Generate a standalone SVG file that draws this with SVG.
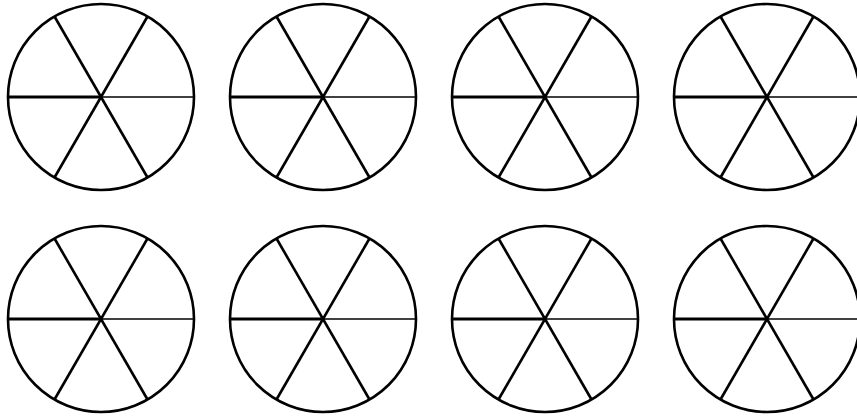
<svg xmlns="http://www.w3.org/2000/svg" width="857" height="419" viewBox="0 0 857 419">
<defs>
<style>
.c{fill:none;stroke:#000;stroke-width:2.6}
.s{stroke:#000;stroke-width:2.6;stroke-linecap:butt}
.l{stroke:#000;stroke-width:3.2}
.r{stroke:#000;stroke-width:1.4}
</style>
<g id="wheel">
<circle class="c" cx="0" cy="0" r="93"/>
<line class="l" x1="-93" y1="0" x2="0" y2="0"/>
<line class="r" x1="0" y1="0" x2="93" y2="0"/>
<line class="s" x1="-46.5" y1="-80.5" x2="46.5" y2="80.5"/>
<line class="s" x1="46.5" y1="-80.5" x2="-46.5" y2="80.5"/>
</g>
</defs>
<g id="w1"><use href="#wheel" x="101" y="97"/></g>
<g id="w2"><use href="#wheel" x="323" y="97"/></g>
<g id="w3"><use href="#wheel" x="545" y="97"/></g>
<g id="w4"><use href="#wheel" x="767" y="97"/></g>
<g id="w5"><use href="#wheel" x="101" y="319"/></g>
<g id="w6"><use href="#wheel" x="323" y="319"/></g>
<g id="w7"><use href="#wheel" x="545" y="319"/></g>
<g id="w8"><use href="#wheel" x="767" y="319"/></g>
</svg>
